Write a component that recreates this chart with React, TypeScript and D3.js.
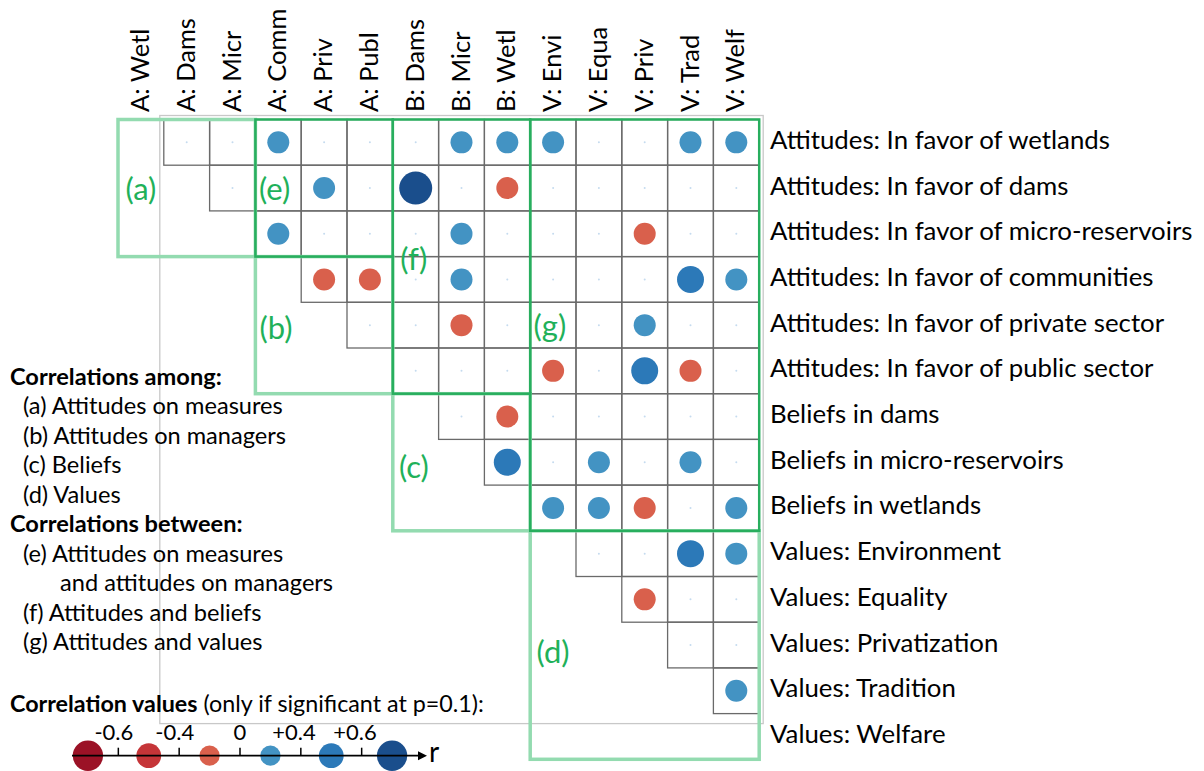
import React from 'react';
import * as d3 from 'd3';

const colLabels = ['A: Wetl', 'A: Dams', 'A: Micr', 'A: Comm', 'A: Priv', 'A: Publ', 'B: Dams', 'B: Micr', 'B: Wetl', 'V: Envi', 'V: Equa', 'V: Priv', 'V: Trad', 'V: Welf'];

const rowLabels = [
  'Attitudes: In favor of wetlands',
  'Attitudes: In favor of dams',
  'Attitudes: In favor of micro-reservoirs',
  'Attitudes: In favor of communities',
  'Attitudes: In favor of private sector',
  'Attitudes: In favor of public sector',
  'Beliefs in dams',
  'Beliefs in micro-reservoirs',
  'Beliefs in wetlands',
  'Values: Environment',
  'Values: Equality',
  'Values: Privatization',
  'Values: Tradition',
  'Values: Welfare',
];

// significant correlations only: [row, col, r]
const sigCells: [number, number, number][] = [
  [0, 3, 0.3], [0, 7, 0.3], [0, 8, 0.3], [0, 9, 0.3], [0, 12, 0.3], [0, 13, 0.3],
  [1, 4, 0.3], [1, 6, 0.7], [1, 8, -0.3],
  [2, 3, 0.3], [2, 7, 0.3], [2, 11, -0.3],
  [3, 4, -0.3], [3, 5, -0.3], [3, 7, 0.3], [3, 12, 0.5], [3, 13, 0.3],
  [4, 7, -0.3], [4, 11, 0.3],
  [5, 9, -0.3], [5, 11, 0.5], [5, 12, -0.3],
  [6, 8, -0.3],
  [7, 8, 0.5], [7, 10, 0.3], [7, 12, 0.3],
  [8, 9, 0.3], [8, 10, 0.3], [8, 11, -0.3], [8, 13, 0.3],
  [9, 12, 0.5], [9, 13, 0.3],
  [10, 11, -0.3],
  [12, 13, 0.3],
];

const binEdges = [-0.6, -0.4, 0, 0.4, 0.6];
const binColors = ['#9b1226', '#c53538', '#d9604c', '#4393c3', '#2c79b8', '#1a4e8c'];
const binRadii = [16.5, 13.5, 11, 11, 13.5, 16.5];
const legendValues = [-0.7, -0.5, -0.3, 0.3, 0.5, 0.7];
const legendTicks = ['-0.6', '-0.4', '0', '+0.4', '+0.6'];

// groups of the matrix: row range, column range, label position in cell units
const boxes = [
  { label: '(a)', rows: [0, 2], cols: [0, 2], kind: 'among', at: [0.5, 1.5] },
  { label: '(b)', rows: [3, 5], cols: [3, 5], kind: 'among', at: [3.45, 4.54] },
  { label: '(c)', rows: [6, 8], cols: [6, 8], kind: 'among', at: [6.46, 7.58] },
  { label: '(d)', rows: [9, 13], cols: [9, 13], kind: 'among', at: [9.5, 11.63] },
  { label: '(e)', rows: [0, 2], cols: [3, 5], kind: 'between', at: [3.42, 1.5] },
  { label: '(f)', rows: [0, 5], cols: [6, 8], kind: 'between', at: [6.46, 3.03] },
  { label: '(g)', rows: [0, 8], cols: [9, 13], kind: 'between', at: [9.43, 4.5] },
];

const notes = [
  { text: 'Correlations among:', bold: true, indent: 0 },
  { text: '(a) Attitudes on measures', bold: false, indent: 1 },
  { text: '(b) Attitudes on managers', bold: false, indent: 1 },
  { text: '(c) Beliefs', bold: false, indent: 1 },
  { text: '(d) Values', bold: false, indent: 1 },
  { text: 'Correlations between:', bold: true, indent: 0 },
  { text: '(e) Attitudes on measures', bold: false, indent: 1 },
  { text: 'and attitudes on managers', bold: false, indent: 2 },
  { text: '(f) Attitudes and beliefs', bold: false, indent: 1 },
  { text: '(g) Attitudes and values', bold: false, indent: 1 },
];

const FONT = "Lato, 'Open Sans', sans-serif";
const GREEN = '#1fb15a';

const App: React.FC = () => {
  const W = 1204;
  const H = 771;

  // --- SCALES ---
  const x = d3.scaleBand<string>().domain(colLabels).range([118, 759.2]);
  const y = d3.scaleBand<string>().domain(rowLabels).range([119.5, 759.3]);
  const cw = x.bandwidth();
  const ch = y.bandwidth();
  const x0 = x.range()[0];
  const y0 = y.range()[0];

  const color = d3.scaleThreshold<number, string>().domain(binEdges).range(binColors);
  const radius = d3.scaleThreshold<number, number>().domain(binEdges).range(binRadii);

  const legendX = d3.scaleBand<string>().domain(legendValues.map(String)).range([57.5, 422.5]);
  const legendY = 755.7;

  const cells: { r: number; c: number }[] = [];
  rowLabels.forEach((_, r) => {
    colLabels.forEach((_, c) => {
      if (c > r) cells.push({ r, c });
    });
  });
  const sigKey = new Set(sigCells.map(d => `${d[0]}-${d[1]}`));

  const noteY = d3.scaleLinear().domain([0, notes.length - 1]).range([385, 650]);
  const indentX = [10, 23, 60];

  return (
    <svg width={W} height={H} style={{ position: 'absolute', left: 0, top: 0, background: '#fff' }} fontFamily={FONT}>
      {/* light chart frame */}
      <rect x={x(colLabels[1])! - 4} y={y0 - 4} width={x.range()[1] - x(colLabels[1])! + 8}
        height={y(rowLabels[13])! + 10 - y0 + 4} fill="none" stroke="#c8c8c8" strokeWidth={1.3} />

      {/* matrix cells */}
      {cells.map(d => (
        <rect key={`c${d.r}-${d.c}`} x={x(colLabels[d.c])} y={y(rowLabels[d.r])} width={cw} height={ch}
          fill="none" stroke="#6a6a6a" strokeWidth={1.3} />
      ))}
      {cells.filter(d => !sigKey.has(`${d.r}-${d.c}`)).map(d => (
        <circle key={`t${d.r}-${d.c}`} cx={x(colLabels[d.c])! + cw / 2} cy={y(rowLabels[d.r])! + ch / 2}
          r={1} fill="#c5dbef" />
      ))}

      {/* group boxes */}
      {boxes.filter(b => b.kind === 'among').map(b => (
        <rect key={b.label} x={x(colLabels[b.cols[0]])} y={y(rowLabels[b.rows[0]])}
          width={(b.cols[1] - b.cols[0] + 1) * cw} height={(b.rows[1] - b.rows[0] + 1) * ch}
          fill="none" stroke="#93dbb0" strokeWidth={3.5} />
      ))}
      {boxes.filter(b => b.kind === 'between').map(b => (
        <rect key={b.label} x={x(colLabels[b.cols[0]])} y={y(rowLabels[b.rows[0]])}
          width={(b.cols[1] - b.cols[0] + 1) * cw} height={(b.rows[1] - b.rows[0] + 1) * ch}
          fill="none" stroke="#28ae5e" strokeWidth={2.5} />
      ))}

      {/* significant correlations */}
      {sigCells.map(([r, c, v]) => (
        <circle key={`s${r}-${c}`} cx={x(colLabels[c])! + cw / 2} cy={y(rowLabels[r])! + ch / 2}
          r={radius(v)} fill={color(v)} />
      ))}

      {boxes.map(b => (
        <text key={`l${b.label}`} x={x0 + b.at[0] * cw} y={y0 + b.at[1] * ch} textAnchor="middle"
          dominantBaseline="central" fontSize={31} fill={GREEN}>{b.label}</text>
      ))}

      {/* column labels */}
      {colLabels.map(l => (
        <text key={l} transform={`translate(${x(l)! + cw / 2 + 8},112) rotate(-90)`} fontSize={25.5} fill="#000">{l}</text>
      ))}

      {/* row labels */}
      {rowLabels.map(l => (
        <text key={l} x={770} y={y(l)! + ch / 2 + 6.5} fontSize={25.8} fill="#000">{l}</text>
      ))}

      {/* notes */}
      {notes.map((n, i) => (
        <text key={n.text} x={indentX[n.indent]} y={noteY(i)} fontSize={23.6} fontWeight={n.bold ? 700 : 400} fill="#000">{n.text}</text>
      ))}

      {/* legend */}
      <text x={10} y={711.7} fontSize={23.3} fill="#000">
        <tspan fontWeight={700}>Correlation values</tspan>
        <tspan> (only if significant at p=0.1):</tspan>
      </text>
      {legendValues.map(v => (
        <circle key={`lg${v}`} cx={legendX(String(v))! + legendX.bandwidth() / 2} cy={legendY}
          r={radius(v) * 0.92} fill={color(v)} />
      ))}
      <line x1={72} x2={418} y1={legendY} y2={legendY} stroke="#000" strokeWidth={1.8} />
      <path d={`M418,${legendY - 4.5}L427,${legendY}L418,${legendY + 4.5}Z`} fill="#000" />
      {legendTicks.map((t, i) => {
        const tx = legendX(String(legendValues[i + 1]))!;
        return (
          <g key={t}>
            <line x1={tx} x2={tx} y1={legendY - 8} y2={legendY} stroke="#000" strokeWidth={1.5} />
            <text x={t === '0' ? tx : tx + 15} y={739.5} fontSize={22} textAnchor={t === '0' ? 'middle' : 'end'} fill="#000">{t}</text>
          </g>
        );
      })}
      <text x={429} y={762} fontSize={28} fill="#000">r</text>
    </svg>
  );
};

export default App;
